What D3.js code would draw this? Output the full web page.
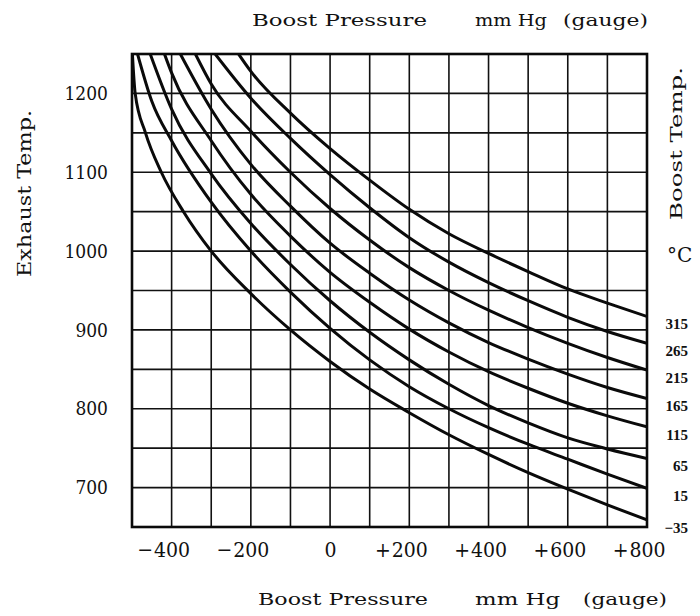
<!DOCTYPE html>
<html>
<head>
<meta charset="utf-8">
<script src="https://cdn.jsdelivr.net/npm/d3@7"></script>
<style>
  body { margin: 0; background: #fff; }
  svg { display: block; }
  text { fill: #111; }
</style>
</head>
<body>
<svg id="chart" width="700" height="616"></svg>
<script>
// Boost temperature (°C) for each curve, top to bottom
const boostTemps = [315, 265, 215, 165, 115, 65, 15, -35];
// Axis ticks
const pressureTicks = [-400, -200, 0, 200, 400, 600, 800];
const exhaustTicks = [700, 800, 900, 1000, 1100, 1200];
const pressureGrid = [-400, -300, -200, -100, 0, 100, 200, 300, 400, 500, 600, 700];
const exhaustGrid = [700, 750, 800, 850, 900, 950, 1000, 1050, 1100, 1150, 1200];

// Each curve: [boost pressure mm Hg, exhaust temp]
const curve315 = [[-231,1250],[-200,1228],[-100,1175],[0,1130],[100,1090],[200,1053],[300,1022],[400,997],[500,974],[600,952],[700,934],[800,917]];
const curve265 = [[-290,1250],[-200,1194],[-100,1143],[0,1097],[100,1055],[200,1017],[300,986],[400,960],[500,937],[600,916],[700,898],[800,883]];
const curve215 = [[-340,1250],[-300,1212],[-200,1152],[-100,1100],[0,1054],[100,1014],[200,979],[300,950],[400,925],[500,903],[600,883],[700,865],[800,849]];
const curve165 = [[-378,1250],[-300,1180],[-200,1110],[-100,1057],[0,1010],[100,972],[200,938],[300,909],[400,884],[500,863],[600,844],[700,827],[800,813]];
const curve115 = [[-418,1250],[-400,1226],[-300,1140],[-200,1072],[-100,1019],[0,973],[100,935],[200,901],[300,872],[400,847],[500,826],[600,807],[700,791],[800,777]];
const curve65  = [[-454,1250],[-400,1180],[-300,1098],[-200,1035],[-100,983],[0,937],[100,897],[200,862],[300,831],[400,804],[500,782],[600,763],[700,749],[800,737]];
const curve15  = [[-486,1250],[-450,1190],[-400,1140],[-300,1062],[-200,1000],[-100,948],[0,902],[100,862],[200,828],[300,800],[400,776],[500,755],[600,736],[700,717],[800,699]];
const curveM35 = [[-499,1250],[-492,1200],[-466,1150],[-426,1100],[-370,1050],[-300,1000],[-200,946],[-100,900],[0,860],[100,825],[200,795],[300,767],[400,742],[500,719],[600,698],[700,678],[800,659]];
const curves = [curve315, curve265, curve215, curve165, curve115, curve65, curve15, curveM35];

const SERIF = '"DejaVu Serif Condensed", "DejaVu Serif", serif';
const svg = d3.select('#chart');

const x = d3.scaleLinear().domain([-500, 800]).range([132, 647]);
const y = d3.scaleLinear().domain([650, 1250]).range([527, 54]);
const [plotL, plotR] = x.range();
const [plotB, plotT] = y.range();

// Grid
const grid = svg.append('g').attr('stroke', '#111').attr('stroke-width', 1.6);
grid.selectAll('line.v').data(pressureGrid).join('line').attr('class', 'v')
  .attr('x1', d => x(d)).attr('x2', d => x(d))
  .attr('y1', plotT).attr('y2', plotB);
grid.selectAll('line.h').data(exhaustGrid).join('line').attr('class', 'h')
  .attr('y1', d => y(d)).attr('y2', d => y(d))
  .attr('x1', plotL).attr('x2', plotR);

// Clip region for the curves
svg.append('clipPath').attr('id', 'plot-clip').append('rect')
  .attr('x', plotL).attr('y', plotT).attr('width', plotR - plotL).attr('height', plotB - plotT);

const line = d3.line().x(d => x(d[0])).y(d => y(d[1])).curve(d3.curveMonotoneX);
const series = boostTemps.map((t, i) => ({ temp: t, pts: curves[i] }));

svg.append('g').attr('clip-path', 'url(#plot-clip)')
  .selectAll('path').data(series).join('path')
  .attr('d', d => line(d.pts))
  .attr('fill', 'none').attr('stroke', '#0a0a0a')
  .attr('stroke-width', 3).attr('stroke-linecap', 'round');

// Frame
svg.append('rect').attr('x', plotL).attr('y', plotT)
  .attr('width', plotR - plotL).attr('height', plotB - plotT)
  .attr('fill', 'none').attr('stroke', '#0a0a0a').attr('stroke-width', 2.6);

// Curve labels at the right edge
svg.append('g').selectAll('text').data(series).join('text')
  .attr('x', 688)
  .attr('y', d => y(d.pts[d.pts.length - 1][1]) + 8)
  .attr('dy', '0.32em')
  .attr('text-anchor', 'end')
  .style('font-family', '"Liberation Serif", serif')
  .style('font-weight', 'bold')
  .style('font-size', '15px')
  .text(d => d.temp < 0 ? '\u2212' + Math.abs(d.temp) : d.temp);

// Bottom axis: digits centred on the grid line, sign hanging to the left
const xAxis = svg.append('g').attr('transform', `translate(0,${plotB})`)
  .call(d3.axisBottom(x).tickValues(pressureTicks).tickSize(0).tickPadding(0)
    .tickFormat(d => String(Math.abs(d))));
xAxis.select('.domain').remove();
xAxis.selectAll('.tick text')
  .attr('y', 30).attr('dy', null)
  .attr('fill', '#111')
  .style('font-family', SERIF).style('font-size', '21px');
xAxis.selectAll('.tick').each(function (d) {
  if (d === 0) return;
  const t = d3.select(this).select('text');
  const w = t.node().getComputedTextLength();
  d3.select(this).append('text')
    .attr('x', -w / 2 - 1).attr('y', 30)
    .attr('text-anchor', 'end').attr('fill', '#111')
    .style('font-family', SERIF).style('font-size', '21px')
    .text(d < 0 ? '\u2212' : '+');
});

// Left axis
const yAxis = svg.append('g').attr('transform', `translate(${plotL},0)`)
  .call(d3.axisLeft(y).tickValues(exhaustTicks).tickSize(0).tickPadding(24)
    .tickFormat(d3.format('d')));
yAxis.select('.domain').remove();
yAxis.selectAll('.tick text')
  .attr('fill', '#111')
  .style('font-family', SERIF).style('font-size', '19px');

// Titles
function title(parent, txt, xPos, yPos, len, size) {
  return parent.append('text').attr('x', xPos).attr('y', yPos)
    .attr('textLength', len).attr('lengthAdjust', 'spacingAndGlyphs')
    .style('font-family', '"DejaVu Serif", serif').style('font-size', size + 'px')
    .text(txt);
}
const titles = svg.append('g');
title(titles, 'Boost Pressure', 252, 26, 175, 17);
title(titles, 'mm Hg', 475, 26, 72, 17);
title(titles, '(gauge)', 563, 26, 85, 17);

title(titles, 'Boost Pressure', 258, 605, 170, 17);
title(titles, 'mm Hg', 475, 605, 85, 17);
title(titles, '(gauge)', 583, 605, 84, 17);

const exhaustTitle = titles.append('g').attr('transform', 'translate(31,277) rotate(-90)');
title(exhaustTitle, 'Exhaust Temp.', 0, 0, 167, 18);

const boostTitle = titles.append('g').attr('transform', 'translate(682,220) rotate(-90)');
title(boostTitle, 'Boost  Temp.', 0, 0, 153, 17);

titles.append('text').attr('x', 667).attr('y', 262)
  .style('font-family', '"DejaVu Serif", serif').style('font-size', '20px')
  .text('\u00B0C');
</script>
</body>
</html>
